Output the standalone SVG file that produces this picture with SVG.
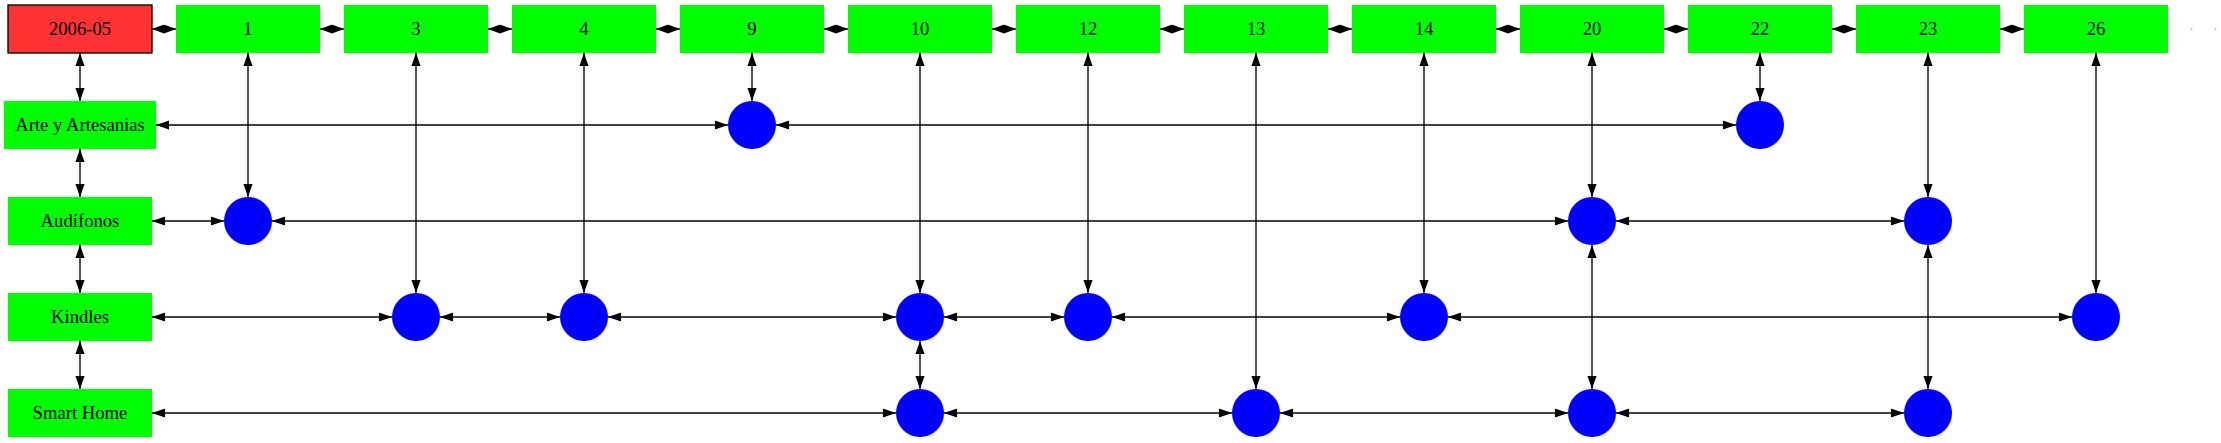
<svg xmlns="http://www.w3.org/2000/svg" width="2221" height="443" viewBox="0 0 2221 443">
<defs>
<marker id="ah" markerUnits="userSpaceOnUse" markerWidth="14" markerHeight="10" refX="13.33" refY="4.67" orient="auto-start-reverse"><path d="M0,0 L13.33,4.67 L0,9.33 z" fill="#000"/></marker>
<marker id="ahs" markerUnits="userSpaceOnUse" markerWidth="13" markerHeight="10" refX="12" refY="4.5" orient="auto-start-reverse"><path d="M0,0 L12,4.5 L0,9 z" fill="#000"/></marker>
</defs>
<style>
.g{fill:#00ff00;stroke:none}
.r{fill:#ff3333;stroke:#000;stroke-width:1.33}
.c{fill:#0000ff;stroke:none}
.t{font-family:"Liberation Serif","Times New Roman",serif;font-size:18.67px;fill:#000;text-anchor:middle}
.e{stroke:#000;stroke-width:1.33;fill:none;marker-start:url(#ah);marker-end:url(#ah)}
.s{stroke:#000;stroke-width:1.33;fill:none;marker-start:url(#ahs);marker-end:url(#ahs)}
</style>
<rect width="2221" height="443" fill="#fff"/>
<g id="connectors">
<path class="s" d="M152,29H176"/><path class="s" d="M320,29H344"/><path class="s" d="M488,29H512"/><path class="s" d="M656,29H680"/><path class="s" d="M824,29H848"/><path class="s" d="M992,29H1016"/><path class="s" d="M1160,29H1184"/><path class="s" d="M1328,29H1352"/><path class="s" d="M1496,29H1520"/><path class="s" d="M1664,29H1688"/><path class="s" d="M1832,29H1856"/><path class="s" d="M2000,29H2024"/>
<circle cx="2191.7" cy="29" r="0.8" fill="#999"/><circle cx="2215.7" cy="29" r="0.8" fill="#999"/>
<path class="e" d="M80,53V101"/><path class="e" d="M80,149V197"/><path class="e" d="M80,245V293"/><path class="e" d="M80,341V389"/>
<path class="e" d="M248,53V197"/><path class="e" d="M416,53V293"/><path class="e" d="M584,53V293"/><path class="e" d="M752,53V101"/><path class="e" d="M920,53V293"/><path class="e" d="M1088,53V293"/><path class="e" d="M1256,53V389"/><path class="e" d="M1424,53V293"/><path class="e" d="M1592,53V197"/><path class="e" d="M1760,53V101"/><path class="e" d="M1928,53V197"/><path class="e" d="M2096,53V293"/>
<path class="e" d="M920,341V389"/><path class="e" d="M1592,245V389"/><path class="e" d="M1928,245V389"/>
<path class="e" d="M156,125H728"/><path class="e" d="M776,125H1736"/>
<path class="e" d="M152,221H224"/><path class="e" d="M272,221H1568"/><path class="e" d="M1616,221H1904"/>
<path class="e" d="M152,317H392"/><path class="e" d="M440,317H560"/><path class="e" d="M608,317H896"/><path class="e" d="M944,317H1064"/><path class="e" d="M1112,317H1400"/><path class="e" d="M1448,317H2072"/>
<path class="e" d="M152,413H896"/><path class="e" d="M944,413H1232"/><path class="e" d="M1280,413H1568"/><path class="e" d="M1616,413H1904"/>
</g>
<g id="n2006-05"><rect class="r" x="8" y="5" width="144" height="48"/><text class="t" x="80" y="34.6">2006-05</text></g>
<g id="n1"><rect class="g" x="176" y="5" width="144" height="48"/><text class="t" x="248" y="34.6">1</text></g>
<g id="n3"><rect class="g" x="344" y="5" width="144" height="48"/><text class="t" x="416" y="34.6">3</text></g>
<g id="n4"><rect class="g" x="512" y="5" width="144" height="48"/><text class="t" x="584" y="34.6">4</text></g>
<g id="n9"><rect class="g" x="680" y="5" width="144" height="48"/><text class="t" x="752" y="34.6">9</text></g>
<g id="n10"><rect class="g" x="848" y="5" width="144" height="48"/><text class="t" x="920" y="34.6">10</text></g>
<g id="n12"><rect class="g" x="1016" y="5" width="144" height="48"/><text class="t" x="1088" y="34.6">12</text></g>
<g id="n13"><rect class="g" x="1184" y="5" width="144" height="48"/><text class="t" x="1256" y="34.6">13</text></g>
<g id="n14"><rect class="g" x="1352" y="5" width="144" height="48"/><text class="t" x="1424" y="34.6">14</text></g>
<g id="n20"><rect class="g" x="1520" y="5" width="144" height="48"/><text class="t" x="1592" y="34.6">20</text></g>
<g id="n22"><rect class="g" x="1688" y="5" width="144" height="48"/><text class="t" x="1760" y="34.6">22</text></g>
<g id="n23"><rect class="g" x="1856" y="5" width="144" height="48"/><text class="t" x="1928" y="34.6">23</text></g>
<g id="n26"><rect class="g" x="2024" y="5" width="144" height="48"/><text class="t" x="2096" y="34.6">26</text></g>
<g id="arte"><rect class="g" x="4" y="101" width="152" height="48"/><text class="t" x="80" y="130.6">Arte y Artesanias</text></g>
<g id="audifonos"><rect class="g" x="8" y="197" width="144" height="48"/><text class="t" x="80" y="226.6">Audífonos</text></g>
<g id="kindles"><rect class="g" x="8" y="293" width="144" height="48"/><text class="t" x="80" y="322.6">Kindles</text></g>
<g id="smarthome"><rect class="g" x="8" y="389" width="144" height="48"/><text class="t" x="80" y="418.6">Smart Home</text></g>
<g id="c9_arte"><circle class="c" cx="752" cy="125" r="24"/></g>
<g id="c22_arte"><circle class="c" cx="1760" cy="125" r="24"/></g>
<g id="c1_aud"><circle class="c" cx="248" cy="221" r="24"/></g>
<g id="c20_aud"><circle class="c" cx="1592" cy="221" r="24"/></g>
<g id="c23_aud"><circle class="c" cx="1928" cy="221" r="24"/></g>
<g id="c3_kin"><circle class="c" cx="416" cy="317" r="24"/></g>
<g id="c4_kin"><circle class="c" cx="584" cy="317" r="24"/></g>
<g id="c10_kin"><circle class="c" cx="920" cy="317" r="24"/></g>
<g id="c12_kin"><circle class="c" cx="1088" cy="317" r="24"/></g>
<g id="c14_kin"><circle class="c" cx="1424" cy="317" r="24"/></g>
<g id="c26_kin"><circle class="c" cx="2096" cy="317" r="24"/></g>
<g id="c10_sh"><circle class="c" cx="920" cy="413" r="24"/></g>
<g id="c13_sh"><circle class="c" cx="1256" cy="413" r="24"/></g>
<g id="c20_sh"><circle class="c" cx="1592" cy="413" r="24"/></g>
<g id="c23_sh"><circle class="c" cx="1928" cy="413" r="24"/></g>
</svg>
